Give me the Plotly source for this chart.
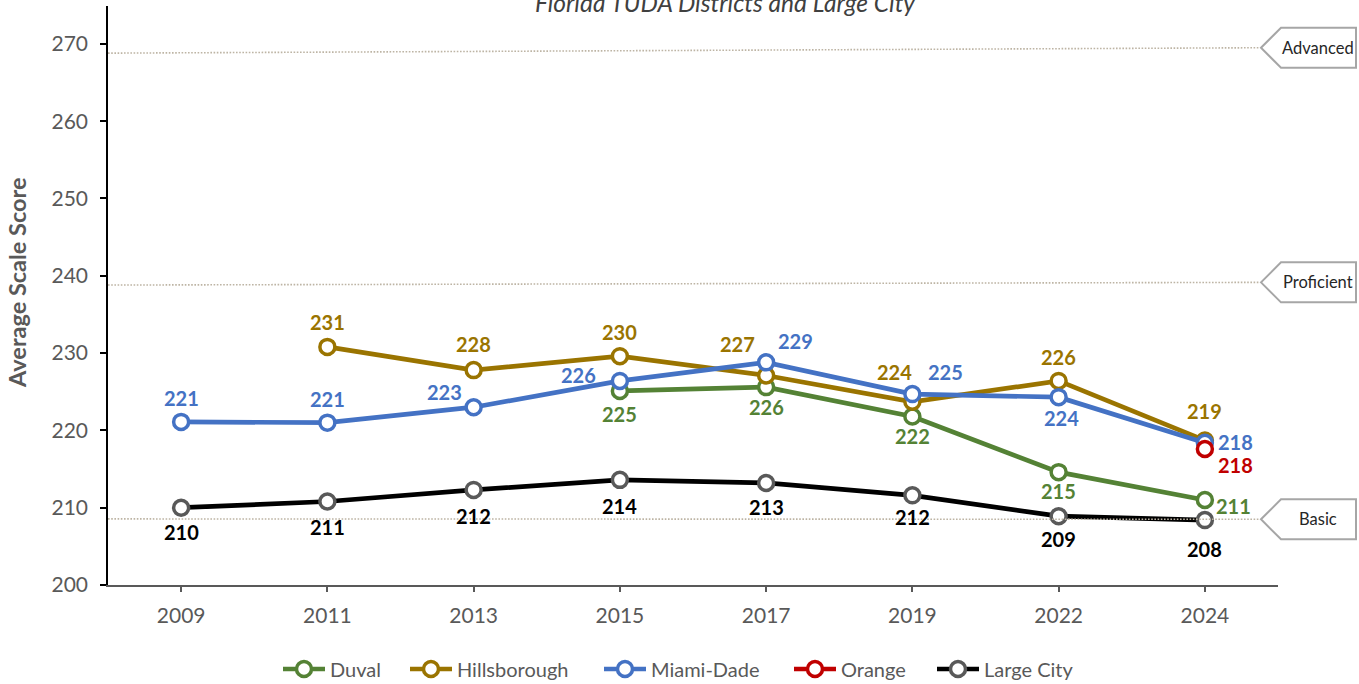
import plotly.graph_objects as go

# ---------------- data ----------------
years = ["2009", "2011", "2013", "2015", "2017", "2019", "2022", "2024"]

duval = [None, None, None, 225.1, 225.6, 221.8, 214.6, 211.0]
hillsborough = [None, 230.8, 227.8, 229.6, 227.1, 223.7, 226.4, 218.7]
miami_dade = [221.1, 221.0, 223.0, 226.4, 228.8, 224.7, 224.3, 218.4]
orange = [None, None, None, None, None, None, None, 217.6]
large_city = [210.0, 210.8, 212.3, 213.6, 213.2, 211.6, 208.9, 208.4]

series_names = ["Duval", "Hillsborough", "Miami-Dade", "Orange", "Large City"]

# achievement level reference lines (left value, right value)
level_names = ["Advanced", "Proficient", "Basic"]
level_left = [268.8, 238.8, 208.55]
level_right = [269.5, 239.15, 208.5]

y_ticks = [200, 210, 220, 230, 240, 250, 260, 270]

# ---------------- styles ----------------
FONT = "Lato"
line_colors = ["#548235", "#9A7400", "#4472C4", "#C00000", "#000000"]
marker_colors = ["#548235", "#9A7400", "#4472C4", "#C00000", "#595959"]
label_colors = ["#548235", "#9A7400", "#4472C4", "#C00000", "#000000"]
legend_left_px = [280, 407, 601, 791, 934]

# label offsets in pixels (dx, dy; dy positive = down)
label_offsets = [
    [None, None, None, (0, 23), (0, 20), (0, 20), (0, 19), (29, 6)],
    [None, (0, -25), (0, -26), (0, -24), (-29, -32), (-18, -30), (0, -24), (0, -29)],
    [(0, -24), (0, -24), (-29, -15), (-41, -6), (29, -21), (33, -22), (3, 21), (31, -1)],
    [None, None, None, None, None, None, None, (31, 16)],
    [(0, 24), (0, 25), (0, 26), (0, 26), (0, 24), (0, 22), (0, 23), (0, 29)],
]

all_series = [duval, hillsborough, miami_dade, orange, large_city]

W, H = 1359, 684
ML, MR, MT, MB = 108, 81, 6, 99
plot_w = W - ML - MR
plot_h = H - MT - MB

fig = go.Figure()

legend_ids = ["legend"] + [f"legend{k}" for k in range(2, len(series_names) + 1)]

for name, vals, lc, mc, lid in zip(series_names, all_series, line_colors,
                                   marker_colors, legend_ids):
    fig.add_trace(go.Scatter(
        x=years, y=vals, name=name, legend=lid, mode="lines+markers",
        line=dict(color=lc, width=4.7),
        marker=dict(symbol="circle", size=15, color="white",
                    line=dict(color=mc, width=3.5)),
        hoverinfo="skip",
    ))

annotations = []
for vals, offs, col in zip(all_series, label_offsets, label_colors):
    for i, (v, off) in enumerate(zip(vals, offs)):
        if v is None or off is None:
            continue
        annotations.append(dict(
            x=i, y=v, xref="x", yref="y", text=f"<b>{round(v)}</b>",
            showarrow=False, xanchor="center", yanchor="middle",
            xshift=off[0], yshift=-off[1],
            font=dict(family=FONT, size=20, color=col),
        ))

shapes = []
tip_px = 1259
tip_paper = (tip_px - ML) / plot_w
for nm, yl, yr in zip(level_names, level_left, level_right):
    shapes.append(dict(
        type="line", xref="paper", yref="y", x0=0, x1=tip_paper, y0=yl, y1=yr,
        line=dict(color="#BDB4A4", width=1.6, dash="1.6px,1.6px"), layer="above",
    ))
    shapes.append(dict(
        type="path", xref="paper", yref="y", xsizemode="pixel", ysizemode="pixel",
        xanchor=1.0, yanchor=yr,
        path="M -17,0 L 3,20 L 78,20 L 78,-20 L 3,-20 Z",
        line=dict(color="#A6A6A6", width=2), fillcolor="white", layer="above",
    ))
    annotations.append(dict(
        x=1 + 40 / plot_w, y=yr, xref="paper", yref="y", text=nm,
        showarrow=False, xanchor="center", yanchor="middle",
        font=dict(family=FONT, size=16.5, color="#262626"),
    ))

# chart title (partially cut at top)
annotations.append(dict(
    x=(725 - ML) / plot_w, y=(H - MB - 3) / plot_h, xref="paper", yref="paper",
    text="<i>Florida TUDA Districts and Large City</i>", showarrow=False,
    xanchor="center", yanchor="middle",
    font=dict(family=FONT, size=24.5, color="#404040"),
))

# y-axis title
annotations.append(dict(
    x=(17 - ML) / plot_w, y=(H - MB - 283) / plot_h, xref="paper", yref="paper",
    text="<b>Average Scale Score</b>", showarrow=False, textangle=-90,
    xanchor="center", yanchor="middle",
    font=dict(family=FONT, size=23.5, color="#595959"),
))

layout_legends = {}
for lid, lx in zip(legend_ids, legend_left_px):
    layout_legends[lid] = dict(
        orientation="h", xanchor="left", yanchor="middle",
        x=(lx - 2 - ML) / plot_w, y=(H - MB - 669) / plot_h,
        font=dict(family=FONT, size=20, color="#595959"),
        bgcolor="rgba(0,0,0,0)", itemwidth=42, borderwidth=0,
    )

fig.update_layout(
    width=W, height=H,
    margin=dict(l=ML, r=MR, t=MT, b=MB, autoexpand=False),
    paper_bgcolor="white", plot_bgcolor="white",
    font=dict(family=FONT, color="#595959"),
    showlegend=True,
    xaxis=dict(
        type="category", range=[-0.5, 7.5],
        showline=True, linecolor="#595959", linewidth=2,
        ticks="outside", ticklen=5, tickcolor="#595959", tickwidth=1.5,
        tickfont=dict(family=FONT, size=21, color="#595959"),
        ticklabelstandoff=6,
        showgrid=False, zeroline=False, fixedrange=True, automargin=False,
    ),
    yaxis=dict(
        range=[200, 274.9], tickvals=y_ticks,
        showline=True, linecolor="#000000", linewidth=1.5,
        ticks="outside", ticklen=6, tickcolor="#000000", tickwidth=1.5,
        tickfont=dict(family=FONT, size=21, color="#595959"),
        ticklabelstandoff=8,
        showgrid=False, zeroline=False, fixedrange=True, automargin=False,
    ),
    shapes=shapes,
    annotations=annotations,
    **layout_legends,
)

fig.write_html(
    "out.html",
    config={"displayModeBar": False},
    post_script="document.body.style.margin='0';document.body.style.overflow='hidden';",
)
